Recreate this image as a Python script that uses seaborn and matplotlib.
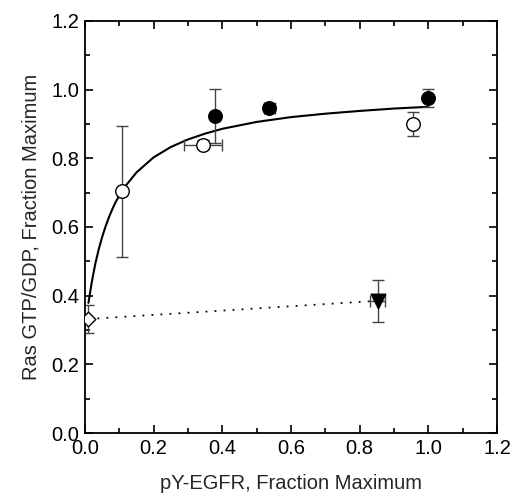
import matplotlib
matplotlib.use("Agg")
import matplotlib.pyplot as plt
import seaborn as sns
import pandas as pd
from matplotlib.ticker import MultipleLocator

# fitted curve
curve_x = [0.01, 0.02, 0.03, 0.04, 0.05, 0.06, 0.07, 0.08, 0.09, 0.105, 0.12, 0.15, 0.2, 0.25, 0.3,
           0.35, 0.4, 0.5, 0.6, 0.7, 0.8, 0.9, 1.0]
curve_y = [0.379, 0.441, 0.493, 0.535, 0.571, 0.602, 0.629, 0.653, 0.674, 0.70, 0.722, 0.759, 0.803,
           0.833, 0.855, 0.872, 0.886, 0.906, 0.920, 0.930, 0.938, 0.945, 0.950]

# open circles
open_x = [0.107, 0.343, 0.955]
open_y = [0.705, 0.840, 0.900]
open_ylo = [0.514, 0.828, 0.866]
open_yhi = [0.895, 0.852, 0.935]
open_xerr = [0.0, 0.055, 0.0]

# filled circles
fill_x = [0.38, 0.536, 1.0]
fill_y = [0.922, 0.947, 0.976]
fill_ylo = [0.845, 0.937, 0.950]
fill_yhi = [1.002, 0.957, 1.002]
fill_xerr = [0.0, 0.016, 0.0]

# diamond + triangle (dotted)
dia_x, dia_y, dia_ylo, dia_yhi = [0.01], [0.332], [0.292], [0.372]
tri_x, tri_y, tri_ylo, tri_yhi, tri_xerr = [0.852], [0.385], [0.322], [0.446], [0.023]

xlabel = "pY-EGFR, Fraction Maximum"
ylabel = "Ras GTP/GDP, Fraction Maximum"

sns.set_style("ticks")
plt.rcParams['font.family'] = ['Liberation Sans', 'DejaVu Sans']

fig = plt.figure(figsize=(5.13, 4.96), dpi=100)
ax = fig.add_axes([0.1657, 0.127, 0.8031, 0.8307])

ecol = "#444444"

# curve
sns.lineplot(x=curve_x, y=curve_y, ax=ax, color="black", linewidth=1.5, estimator=None, sort=False)
# dotted line
sns.lineplot(x=dia_x + tri_x, y=dia_y + tri_y, ax=ax, color="black", linewidth=1.3,
             linestyle=(0, (1, 4)), estimator=None, sort=False)

def eb(xs, ys, ylo, yhi, xerr):
    yl = [y - lo for y, lo in zip(ys, ylo)]
    yh = [hi - y for y, hi in zip(ys, yhi)]
    ax.errorbar(xs, ys, yerr=[yl, yh], xerr=xerr, fmt="none", ecolor=ecol,
                elinewidth=1.0, capsize=4, capthick=1.0, zorder=2)

eb(open_x, open_y, open_ylo, open_yhi, open_xerr)
eb(fill_x, fill_y, fill_ylo, fill_yhi, fill_xerr)
eb(dia_x, dia_y, dia_ylo, dia_yhi, [0.0])
eb(tri_x, tri_y, tri_ylo, tri_yhi, tri_xerr)

sns.scatterplot(x=open_x, y=open_y, ax=ax, marker="o", s=95, facecolor="white",
                edgecolor="black", linewidth=1.0, zorder=4)
sns.scatterplot(x=fill_x, y=fill_y, ax=ax, marker="o", s=95, color="black",
                edgecolor="black", linewidth=1.0, zorder=4)
sns.scatterplot(x=dia_x, y=dia_y, ax=ax, marker="D", s=55, facecolor="white",
                edgecolor="black", linewidth=1.0, zorder=4)
sns.scatterplot(x=tri_x, y=tri_y, ax=ax, marker="v", s=110, color="black",
                edgecolor="black", linewidth=1.0, zorder=4)

ax.set_xlim(0, 1.2)
ax.set_ylim(0, 1.2)
ax.xaxis.set_major_locator(MultipleLocator(0.2))
ax.yaxis.set_major_locator(MultipleLocator(0.2))
ax.xaxis.set_minor_locator(MultipleLocator(0.1))
ax.yaxis.set_minor_locator(MultipleLocator(0.1))
ax.xaxis.set_major_formatter(matplotlib.ticker.FormatStrFormatter("%.1f"))
ax.yaxis.set_major_formatter(matplotlib.ticker.FormatStrFormatter("%.1f"))
ax.tick_params(which="both", direction="in", top=True, right=True, width=1.2, labelsize=14.5, colors="black")
ax.tick_params(which="major", length=6, pad=4)
ax.tick_params(which="minor", length=3.5)
for s in ax.spines.values():
    s.set_visible(True)
    s.set_linewidth(1.3)
    s.set_color("black")

ax.set_xlabel(xlabel, fontsize=14.5, labelpad=12)
ax.set_ylabel(ylabel, fontsize=14.5, labelpad=8)

fig.savefig("out.png", dpi=100)
